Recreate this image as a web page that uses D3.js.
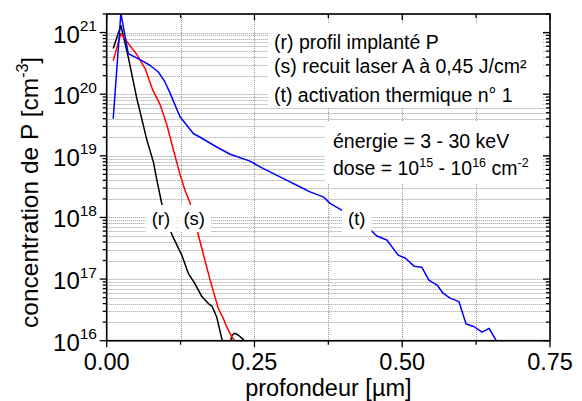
<!DOCTYPE html>
<html><head><meta charset="utf-8">
<script src="https://cdn.jsdelivr.net/npm/d3@7"></script>
<style>
body{margin:0;background:#fff}
svg{display:block}
text{font-family:"Liberation Sans",Arial,Helvetica,sans-serif;fill:#000}
</style>
</head><body>
<svg id="chart" width="582" height="401"></svg>
<script>
// ---- data (depth in µm, concentration in cm^-3) ----
const depthR = [0.011,0.024,0.0365,0.051,0.068,0.079,0.085,0.093,0.1105,0.127,0.138,0.149,0.161,0.172,0.178,0.186,0.195,0.200,0.2085,0.2115,0.216,0.2225,0.231,0.236];
const concR  = [5.5e20,1.3e21,4.0e20,8.5e19,1.8e19,7.9e18,4.0e18,1.7e18,5.2e17,2.45e17,1.24e17,8.5e16,5.2e16,4.0e16,3.65e16,2.45e16,1.05e16,8.0e15,8.5e15,1.2e16,1.32e16,1.24e16,1.05e16,9.0e15];

const depthS = [0.011,0.024,0.039,0.051,0.065,0.078,0.090,0.1015,0.113,0.124,0.1325,0.141,0.155,0.175,0.189,0.197,0.203,0.2085,0.214,0.219];
const concS  = [3.5e20,9.6e20,6.2e20,4.4e20,2.6e20,1.16e20,6.9e19,3.25e19,1.23e19,5.0e18,2.77e18,1.71e18,5.2e17,9.6e16,3.3e16,2.33e16,1.67e16,1.33e16,1.07e16,9.5e15];

const depthT = [0.011,0.024,0.0365,0.0423,0.0563,0.073,0.0873,0.0986,0.107,0.124,0.1465,0.158,0.186,0.209,0.2424,0.2594,0.2932,0.3326,0.344,0.3664,0.3778,0.3976,0.447,0.457,0.474,0.493,0.505,0.520,0.533,0.545,0.559,0.569,0.581,0.596,0.608,0.621,0.635,0.647,0.659,0.662];
const concT  = [4.0e19,2.05e21,4.55e20,4.27e20,3.64e20,2.95e20,2.29e20,1.58e20,1.05e20,4.3e19,2.3e19,2.0e19,1.39e19,1.06e19,8.2e18,6.6e18,4.55e18,2.95e18,2.6e18,2.16e18,1.69e18,1.31e18,6.2e17,5.0e17,4.3e17,2.45e17,2.2e17,1.62e17,1.56e17,9.6e16,8.0e16,5.9e16,4.9e16,4.3e16,1.87e16,1.7e16,1.38e16,1.59e16,1.0e16,9.0e15];

const seriesNames = ["(r)","(s)","(t)"];
const seriesColors = ["#000000","#ff0000","#0000ff"];
const labelDepth = [0.0918, 0.148, 0.423];   // where the series labels sit
const labelConc  = [1.0e18, 1.0e18, 1.0e18];

const xTicks = [0, 0.25, 0.5, 0.75];
const xTickLabels = ["0.00","0.25","0.50","0.75"];
const xMinorTicks = [0.125, 0.375, 0.625];
const yDecades = [16,17,18,19,20,21];

const legendLines = ["(r) profil implanté P","(s) recuit laser A à 0,45 J/cm²","(t) activation thermique n° 1"];
const infoLine1 = "énergie = 3 - 30 keV";

// ---- layout ----
const svg = d3.select("#chart");
const L = 106.7, R = 550, T = 14, B = 340.7;
const x = d3.scaleLinear().domain([0,0.75]).range([L,R]);
const y = d3.scaleLog().domain([1e16,2e21]).range([B,T]);

const yMinor = [];
yDecades.forEach(d => { for (let m=2;m<=9;m++){ const v=m*Math.pow(10,d); if (v<=2e21) yMinor.push(v);} });
const yMajor = yDecades.map(d => Math.pow(10,d));

// grid
const grid = svg.append("g").attr("stroke","#999").attr("stroke-width",1).attr("stroke-dasharray","1,1");
[...yMajor, ...yMinor].forEach(v => {
  grid.append("line").attr("x1",L).attr("x2",R).attr("y1",Math.round(y(v))+0.5).attr("y2",Math.round(y(v))+0.5);
});
[0.125,0.25,0.375,0.5,0.625].forEach(v => {
  grid.append("line").attr("y1",T).attr("y2",B).attr("x1",Math.round(x(v))+0.5).attr("x2",Math.round(x(v))+0.5);
});

// legend background boxes (hide grid)
svg.append("rect").attr("x",268).attr("y",24).attr("width",275).attr("height",84).attr("fill","#fff");
svg.append("rect").attr("x",325).attr("y",121).attr("width",218).attr("height",62).attr("fill","#fff");

// clip
svg.append("clipPath").attr("id","clip").append("rect").attr("x",L).attr("y",T).attr("width",R-L).attr("height",B-T);

const line = d3.line().x(d=>x(d[0])).y(d=>y(d[1]));
const series = [[depthR,concR],[depthS,concS],[depthT,concT]];
const lg = svg.append("g").attr("clip-path","url(#clip)");
series.forEach((s,i) => {
  const pts = s[0].map((d,j)=>[d,s[1][j]]);
  lg.append("path").attr("d",line(pts)).attr("fill","none").attr("stroke",seriesColors[i]).attr("stroke-width",1.5).attr("stroke-linejoin","round");
});

// series labels with white background
seriesNames.forEach((n,i) => {
  const g = svg.append("g");
  const r = g.append("rect").attr("fill","#fff");
  const t = g.append("text").attr("x",x(labelDepth[i])).attr("y",y(labelConc[i])+7.5)
    .attr("text-anchor","middle").attr("font-size",18.5).text(n);
  const bb = t.node().getBBox();
  r.attr("x",bb.x-6).attr("y",bb.y-3).attr("width",bb.width+12).attr("height",bb.height+6);
});

// frame
svg.append("rect").attr("x",L).attr("y",T).attr("width",R-L).attr("height",B-T)
  .attr("fill","none").attr("stroke","#000").attr("stroke-width",1.6);

// ticks
const tk = svg.append("g").attr("stroke","#000").attr("stroke-width",1.3);
yMajor.forEach(v => {
  const yy = y(v);
  tk.append("line").attr("x1",L-7).attr("x2",L).attr("y1",yy).attr("y2",yy);
  tk.append("line").attr("x1",R-7).attr("x2",R).attr("y1",yy).attr("y2",yy);
});
yMinor.forEach(v => {
  const yy = y(v);
  tk.append("line").attr("x1",L-4).attr("x2",L).attr("y1",yy).attr("y2",yy);
  tk.append("line").attr("x1",R-4).attr("x2",R).attr("y1",yy).attr("y2",yy);
});
xTicks.forEach(v => {
  tk.append("line").attr("x1",x(v)).attr("x2",x(v)).attr("y1",B).attr("y2",B+6.5);
  tk.append("line").attr("x1",x(v)).attr("x2",x(v)).attr("y1",T).attr("y2",T+6);
});
xMinorTicks.forEach(v => {
  tk.append("line").attr("x1",x(v)).attr("x2",x(v)).attr("y1",B).attr("y2",B+4);
  tk.append("line").attr("x1",x(v)).attr("x2",x(v)).attr("y1",T).attr("y2",T+4);
});

// tick labels
xTicks.forEach((v,i) => {
  svg.append("text").attr("x",x(v)).attr("y",369.5).attr("text-anchor","middle").attr("font-size",23.5).text(xTickLabels[i]);
});
yDecades.forEach(d => {
  const t = svg.append("text").attr("x",97).attr("y",y(Math.pow(10,d))+10).attr("text-anchor","end");
  t.append("tspan").attr("font-size",24).text("10");
  t.append("tspan").attr("font-size",15.5).attr("dy",-11.5).text(String(d));
});

// axis titles
svg.append("text").attr("x",328.35).attr("y",395.5).attr("text-anchor","middle").attr("font-size",23.5).text("profondeur [µm]");
const yt = svg.append("text").attr("transform","translate(38,328) rotate(-90)").attr("font-size",24.5);
yt.append("tspan").text("concentration de P [cm");
yt.append("tspan").attr("font-size",16).attr("dy",-10).text("-3");
yt.append("tspan").attr("dy",10).text("]");

// legend text
const legY = [49.3, 72.7, 101.5];
legendLines.forEach((s,i) => {
  svg.append("text").attr("x",274).attr("y",legY[i]).attr("font-size",19.5).text(s);
});
svg.append("text").attr("x",333).attr("y",148).attr("font-size",19.5).text(infoLine1);
const dt = svg.append("text").attr("x",333).attr("y",174.5).attr("font-size",19.5);
dt.append("tspan").text("dose = 10");
dt.append("tspan").attr("font-size",12.5).attr("dy",-8).text("15");
dt.append("tspan").attr("dy",8).text(" - 10");
dt.append("tspan").attr("font-size",12.5).attr("dy",-8).text("16");
dt.append("tspan").attr("dy",8).text(" cm");
dt.append("tspan").attr("font-size",12.5).attr("dy",-8).text("-2");
</script>
</body></html>
